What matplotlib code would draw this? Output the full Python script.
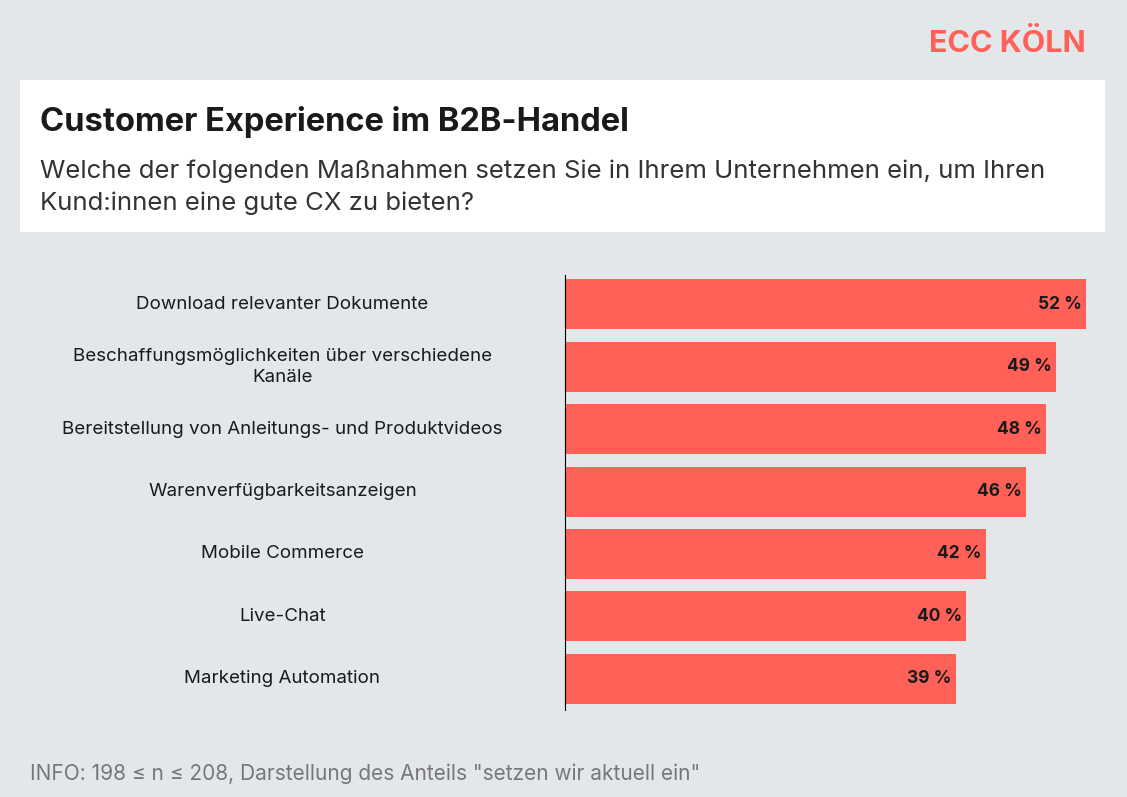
import matplotlib.pyplot as plt
from matplotlib.patches import Rectangle

plt.rcParams['font.family'] = ['Inter', 'DejaVu Sans']

kategorien = ['Download relevanter Dokumente',
              'Beschaffungsmöglichkeiten über verschiedene\nKanäle',
              'Bereitstellung von Anleitungs- und Produktvideos',
              'Warenverfügbarkeitsanzeigen',
              'Mobile Commerce',
              'Live-Chat',
              'Marketing Automation']
werte = [52, 49, 48, 46, 42, 40, 39]

bg = '#e4e7ea'
rot = '#ff6159'

fig = plt.figure(figsize=(11.27, 7.97), dpi=100, facecolor=bg)
fig.patches.append(Rectangle((20/1127, 1-232/797), 1085/1127, 152/797,
                             transform=fig.transFigure, facecolor='white', edgecolor='none'))
fig.text(1086/1127, 1-44/797, 'ECC KÖLN', color=rot, fontsize=22, fontweight='bold',
         ha='right', va='center')
fig.text(40/1127, 1-122/797, 'Customer Experience im B2B-Handel', color='#1a1a1a',
         fontsize=23.5, fontweight='bold', va='center')
fig.text(40/1127, 1-187/797, 'Welche der folgenden Maßnahmen setzen Sie in Ihrem Unternehmen ein, um Ihren\n'
         'Kund:innen eine gute CX zu bieten?', color='#333333', fontsize=18.5, va='center',
         linespacing=1.45)
fig.text(30/1127, 1-774/797, 'INFO: 198 ≤ n ≤ 208, Darstellung des Anteils "setzen wir aktuell ein"',
         color='#777777', fontsize=15, va='center')

ax = fig.add_axes([565/1127, 1-710/797, 521/1127, 435/797])
ax.set_facecolor('none')
y = list(range(len(werte)))
ax.barh(y, werte, height=0.8, color=rot)
ax.set_xlim(0, 52)
ax.set_ylim(6.5, -0.47)
for s in ['top', 'right', 'bottom']:
    ax.spines[s].set_visible(False)
ax.spines['left'].set_color('black')
ax.set_xticks([])
ax.set_yticks([])
for i, (k, w) in enumerate(zip(kategorien, werte)):
    ax.text(w-0.4, i, f'{w} %', ha='right', va='center', fontsize=12.5, fontweight='bold',
            color='#1a1a1a')
    ax.text(-28.2, i, k, ha='center', va='center', fontsize=13.5, color='#1a1a1a',
            linespacing=1.3)

fig.savefig('out.png', dpi=100, facecolor=bg)
